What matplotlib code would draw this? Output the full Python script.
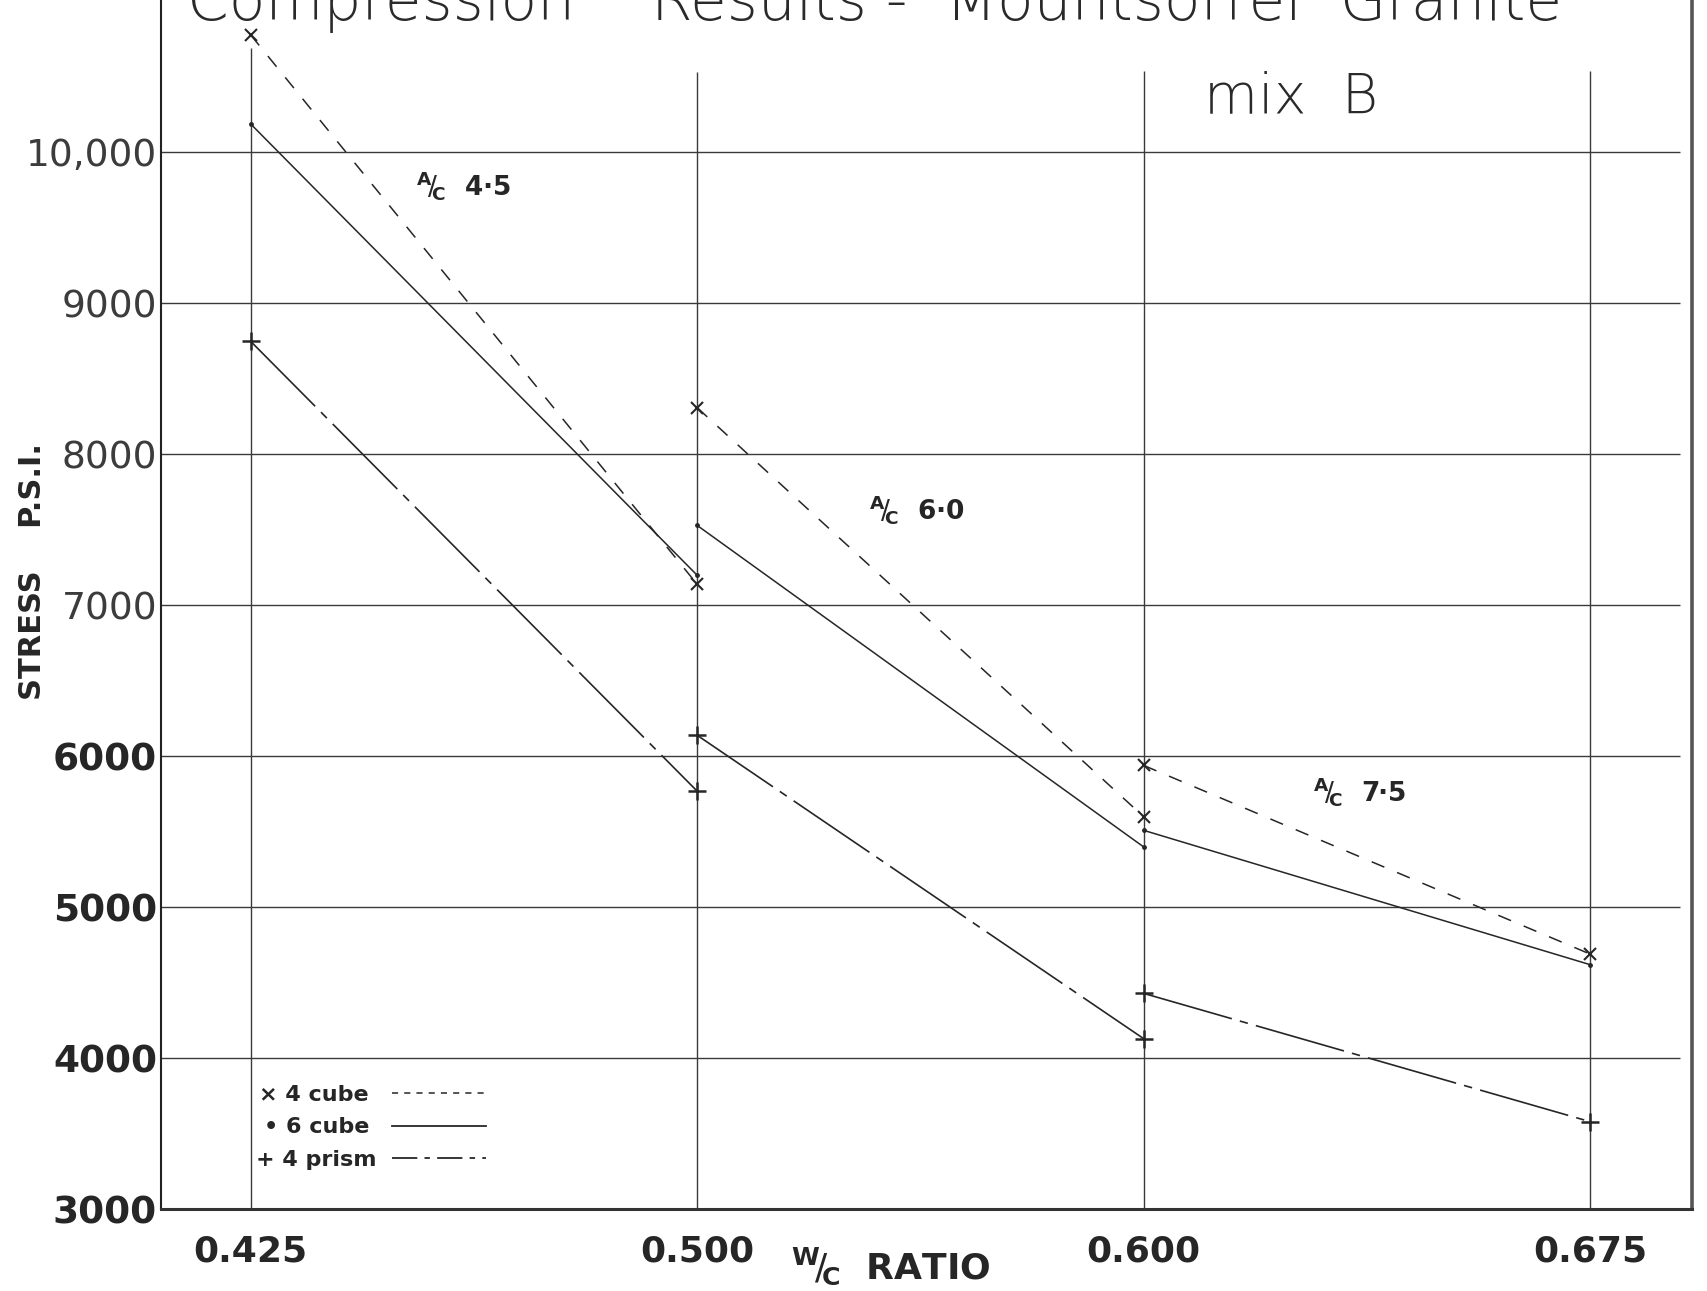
import matplotlib
matplotlib.use("Agg")
import matplotlib.pyplot as plt
from matplotlib.lines import Line2D

# Water/cement ratios on the horizontal axis (equally spaced categories)
wc_ratios = ["0.425", "0.500", "0.600", "0.675"]

# Aggregate/cement ratio of each test group; group k spans ratios k .. k+1
ac_ratios = ["4·5", "6·0", "7·5"]

# Compressive stress (p.s.i.) at the start and end of each A/C group
cube4 = [(10780, 7140), (8310, 5600), (5940, 4690)]
cube6 = [(10190, 7200), (7530, 5400), (5510, 4620)]
prism4 = [(8750, 5770), (6140, 4130), (4430, 3580)]

# Where each A/C label sits (category position, stress)
ac_label_pos = [(0.37, 9780), (1.385, 7635), (2.38, 5770)]

y_ticks = [3000, 4000, 5000, 6000, 7000, 8000, 9000, 10000]
y_labels = ["3000", "4000", "5000", "6000", "7000", "8000", "9000", "10,000"]

ink = "#262626"
grid_ink = "#3a3a3a"

fig = plt.figure(figsize=(17.08, 12.91), dpi=100)
fig.patch.set_facecolor("white")
ax = fig.add_axes([148 / 1568, 1 - 1110 / 1185, (1553 - 148) / 1568, 1110 / 1185])

x_pos = list(range(len(wc_ratios)))
x_min, x_max = -0.2, 3.227
ax.set_xlim(x_min, x_max)
ax.set_ylim(3000, 11010)

# hand-ruled grid: horizontal lines every 1000 psi, verticals at each W/C ratio
ax.hlines(y_ticks[1:], x_min, 3.2, color=grid_ink, lw=1.0, zorder=1)
ax.vlines(x_pos, 3000, [10690, 10530, 10540, 10540], color=grid_ink, lw=1.0, zorder=1)

ax.spines["top"].set_visible(False)
ax.spines["bottom"].set_linewidth(2.2)
ax.spines["bottom"].set_color("#333333")
ax.spines["left"].set_linewidth(1.5)
ax.spines["left"].set_color("#222222")
ax.spines["right"].set_linewidth(2.6)
ax.spines["right"].set_color("#555555")

styles = {
    "cube4": dict(color=ink, lw=1.1, dashes=(9, 9), marker="x", ms=8, mew=1.5),
    "cube6": dict(color=ink, lw=1.1, ls="-", marker="o", ms=3.5, mew=0),
    "prism4": dict(color=ink, lw=1.2, dashes=(55, 5, 5, 5), marker="+", ms=13, mew=1.8),
}

for k in range(len(ac_ratios)):
    xs = [x_pos[k], x_pos[k + 1]]
    ax.plot(xs, cube4[k], zorder=3, **styles["cube4"])
    ax.plot(xs, cube6[k], zorder=3, **styles["cube6"])
    ax.plot(xs, prism4[k], zorder=3, **styles["prism4"])
    ax.text(ac_label_pos[k][0], ac_label_pos[k][1],
            r"${}^{\mathbf{A}}\!/\!{}_{\mathbf{C}}$  " + ac_ratios[k],
            fontsize=19, fontweight="bold", color=ink, ha="left", va="center")

ax.set_xticks(x_pos)
ax.set_xticklabels(wc_ratios, fontsize=26, fontweight="bold", color=ink)
ax.set_yticks(y_ticks)
ax.set_yticklabels(y_labels, color=ink)
ax.tick_params(axis="x", length=0, pad=18)
ax.tick_params(axis="y", length=0, pad=3)
for lab, val in zip(ax.get_yticklabels(), y_ticks):
    lab.set_fontsize(27)
    if val <= 6000:
        lab.set_fontweight("bold")
    else:
        lab.set_fontweight("normal")
        lab.set_color("#3c3c3c")

ax.set_ylabel("STRESS    P.S.I.", fontsize=22, fontweight="bold", color=ink, va="center")
ax.yaxis.set_label_coords(-0.084, 0.527)
ax.set_xlabel(r"${}^{\mathbf{W}}\!/\!{}_{\mathbf{C}}$  RATIO", fontsize=26,
              fontweight="bold", color=ink)
ax.xaxis.set_label_coords(0.477, -0.030)

# legend: symbol and name, followed by a sample of the line style
handles = [
    Line2D([], [], color=ink, lw=1.1, dashes=(4, 4)),
    Line2D([], [], color=ink, lw=1.3, ls="-"),
    Line2D([], [], color=ink, lw=1.3, dashes=(14, 4, 3, 4)),
]
labels = ["× 4 cube ", "• 6 cube ", "+ 4 prism"]
leg = ax.legend(handles, labels, loc="lower left", bbox_to_anchor=(0.052, 0.020),
                frameon=False, markerfirst=False, handlelength=4.2,
                handletextpad=0.7, labelspacing=0.55, borderpad=0.2,
                prop=dict(size=16, weight="bold"))
for t in leg.get_texts():
    t.set_color(ink)

fig.text(0.512, 1 - 18 / 1185, "Compression    Results -  Mountsorrel  Granite",
         ha="center", va="baseline", fontsize=43, fontweight="light", color="#2a2a2a")
ax.text(0.738, 0.907, "mix  B", transform=ax.transAxes, ha="center", va="baseline",
        fontsize=40, fontweight="light", color="#2a2a2a")

fig.savefig("out.png", dpi=100, facecolor="white")
